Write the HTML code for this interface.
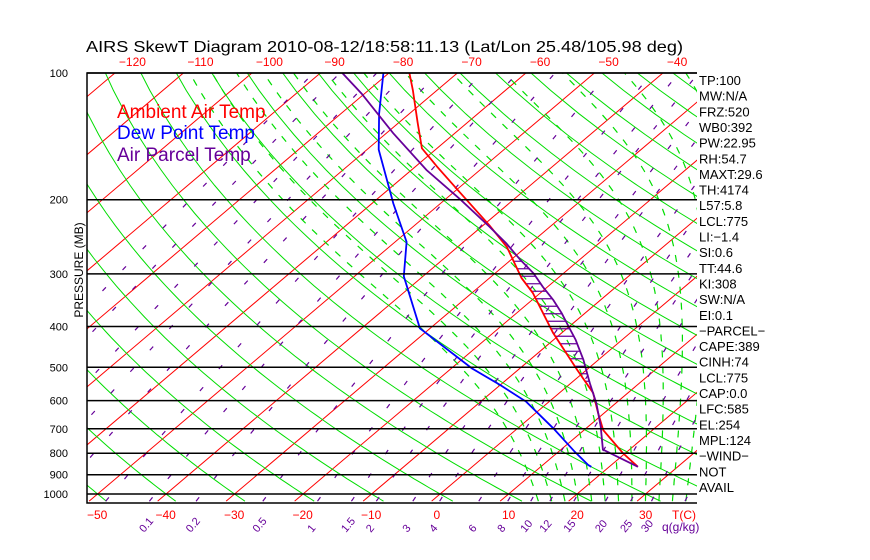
<!DOCTYPE html>
<html><head><meta charset="utf-8"><style>
html,body{margin:0;padding:0;background:#fff}
svg{display:block}
text{font-family:"Liberation Sans",sans-serif}
</style></head><body>
<svg id="chart" width="870" height="560" viewBox="0 0 870 560" xmlns="http://www.w3.org/2000/svg">
<defs><clipPath id="plotclip"><rect x="87" y="73" width="610" height="430"/></clipPath></defs>
<text x="86" y="52" font-size="16" textLength="597" lengthAdjust="spacingAndGlyphs" fill="#000">AIRS SkewT Diagram 2010-08-12/18:58:11.13 (Lat/Lon 25.48/105.98 deg)</text>
<g id="grid" clip-path="url(#plotclip)"></g>
<g id="series" clip-path="url(#plotclip)"></g>
<g id="axes"></g>
<text x="117" y="118" font-size="19" fill="#ff0000">Ambient Air Temp</text>
<text x="117" y="139" font-size="19" fill="#0000ff">Dew Point Temp</text>
<text x="117" y="161" font-size="19" fill="#660099">Air Parcel Temp</text>
<text transform="translate(83,270) rotate(-90)" text-anchor="middle" font-size="12" fill="#000">PRESSURE (MB)</text>
<g id="stats"></g>
</svg>
<script>
// ---- data ----
const isobarLevels = [100,200,300,400,500,600,700,800,900,1000];
const bottomTempTicks = [-50,-40,-30,-20,-10,0,10,20,30];
const topTempTicks = [-120,-110,-100,-90,-80,-70,-60,-50,-40];
const mixRatioLabels = [0.1,0.2,0.5,1,1.5,2,3,4,6,8,10,12,15,20,25,30];
const mixRatioLines = [0.001,0.002,0.005,0.01,0.02,0.05,0.1,0.2,0.5,1,1.5,2,3,4,6,8,10,12,15,20,25,30,40];
const moistAdiabats = [14,16,18,20,22,24,26,28,30,32,34,36,38,40];
const envPres = [100,110,131,151,167,192,230,259,307,333,414,507,575,642,705,799,862];
const envTemp = [-77,-73.5,-67.3,-62.2,-56.8,-49.1,-39.1,-32.8,-25.3,-21.1,-11.3,-1.4,4.9,9.1,12.8,19.6,24.2];
const dewPres = [100,125,152,204,252,304,404,503,551,604,698,794,853,862];
const dewTemp = [-80.8,-74.4,-68.3,-56.9,-48.3,-42.8,-31.5,-17,-10,-3.3,5.2,12.4,16.6,17.4];
const parPres = [100,112,139,170,200,232,254,278,299,322,346,372,400,430,480,546,609,691,784,862];
const parTemp = [-86.8,-80.4,-69,-57.8,-47.7,-38.8,-33.5,-28.6,-24.4,-20.7,-16.9,-13.4,-10.1,-6.8,-2.2,2.8,7.2,11.8,16.1,24.2];
const statLabels = ["TP:100","MW:N/A","FRZ:520","WB0:392","PW:22.95","RH:54.7","MAXT:29.6","TH:4174","L57:5.8","LCL:775","LI:-1.4","SI:0.6","TT:44.6","KI:308","SW:N/A","EI:0.1","-PARCEL-","CAPE:389","CINH:74","LCL:775","CAP:0.0","LFC:585","EL:254","MPL:124","-WIND-","NOT","AVAIL"];

// ---- axis functions ----
const X0=87, YB=503, SC=6.85, SK=1.18;
function yP(p){return 73+421*Math.log10(p/100);}
function xT(T,p){return X0+SC*(T+50)+SK*(YB-yP(p));}
const NS='http://www.w3.org/2000/svg';
function mk(tag,attrs,parent){const e=document.createElementNS(NS,tag);for(const k in attrs)e.setAttribute(k,attrs[k]);parent.appendChild(e);return e;}
const grid=document.getElementById('grid'), series=document.getElementById('series'), axes=document.getElementById('axes'), stats=document.getElementById('stats');
function pts(arr){return arr.map(a=>a[0].toFixed(1)+','+a[1].toFixed(1)).join(' ');}

// isotherms
for(let T=-170;T<=50;T+=10){
  const l=mk('line',{x1:xT(T,1040),y1:yP(1040),x2:xT(T,95),y2:yP(95),stroke:'#ff0000','stroke-width':1},grid);
  
  
}
// dry adiabats
for(let th=173.15;th<=503.15;th+=10){
  const a=[];for(let p=1040;p>=95;p-=15){a.push([xT(th*Math.pow(p/1000,0.286)-273.15,p),yP(p)]);}
  const l=mk('polyline',{points:pts(a),fill:'none',stroke:'#00dd00','stroke-width':1},grid);
  
  
}
// moist adiabats
function es(T){return 6.112*Math.exp(17.67*T/(T+243.5));}
for(const tw of moistAdiabats){
  let T=tw+273.15;const a=[[xT(tw,1000),yP(1000)]];
  for(let p=1000;p>100;p-=5){const rs=0.622*es(T-273.15)/(p-es(T-273.15));
    const d=(287*T+2.5e6*rs)/(p*(1004+2.5e6*2.5e6*rs*0.622/(287*T*T)));T-=d*5;a.push([xT(T-273.15,p-5),yP(p-5)]);}
  let T2=tw+273.15;const b=[];
  for(let p=1000;p<1040;p+=5){const rs=0.622*es(T2-273.15)/(p-es(T2-273.15));
    const d=(287*T2+2.5e6*rs)/(p*(1004+2.5e6*2.5e6*rs*0.622/(287*T2*T2)));T2+=d*5;b.push([xT(T2-273.15,p+5),yP(p+5)]);}
  const all=b.reverse().concat(a);
  const l=mk('polyline',{points:pts(all),fill:'none',stroke:'#00dd00','stroke-width':1.2,'stroke-dasharray':'7,9'},grid);
  
  
}
// mixing ratio lines
function tw_of(w,p){const e=w*p/(622+w);const L=Math.log(e/6.112);return 243.5*L/(17.67-L);}
for(const w of mixRatioLines){
  const a=[];for(let p=1040;p>=95;p-=10)a.push([xT(tw_of(w,p),p),yP(p)]);
  const l=mk('polyline',{points:pts(a),fill:'none',stroke:'#660099','stroke-width':1.2,'stroke-dasharray':'5,24'},grid);
  
  
}
// isobars
for(const p of isobarLevels){
  const l=mk('line',{x1:87,y1:yP(p),x2:697,y2:yP(p),stroke:'#000','stroke-width':1.5},axes);
  
  
  const t=mk('text',{x:68,y:yP(p)+4,'font-size':11,'text-anchor':'end',fill:'#000'},axes);t.textContent=p;
  
  
}
const fr=mk('polyline',{points:'697,73 87,73 87,503 697,503',fill:'none',stroke:'#000','stroke-width':1.5},axes);


for(const T of bottomTempTicks){
  const t=mk('text',{x:X0+SC*(T+50)+(T<0?0:4),y:519,'font-size':12,fill:'#ff0000'},axes);t.textContent=(T<0?'\u2212'+(-T):T);
  
  
}
const tc=mk('text',{x:672,y:519,'font-size':12,fill:'#ff0000'},axes);tc.textContent='T(C)';


for(const T of topTempTicks){
  const t=mk('text',{x:X0+SC*(T+50)+SK*430+4,y:66,'font-size':12,fill:'#ff0000'},axes);t.textContent='\u2212'+(-T);
  
  
}
for(const w of mixRatioLabels){
  const x=xT(tw_of(w,1035),1035);
  const t=mk('text',{transform:'translate('+(x-6).toFixed(1)+',533) rotate(-50)','font-size':11,fill:'#660099'},axes);t.textContent=w;
  
  
}
const ql=mk('text',{x:662,y:531,'font-size':12,fill:'#660099'},axes);ql.textContent='q(g/kg)';



// series
function toPix(P,T){return P.map((p,i)=>[xT(T[i],p),yP(p)]);}
const envPx=toPix(envPres,envTemp), dewPx=toPix(dewPres,dewTemp), parPx=toPix(parPres,parTemp);
function interpX(px,y){for(let i=0;i<px.length-1;i++){const a=px[i],b=px[i+1];if((y>=a[1]&&y<=b[1])){const f=(y-a[1])/(b[1]-a[1]||1);return a[0]+f*(b[0]-a[0]);}}return null;}
for(let y=yP(280);y<=yP(585);y+=7.5){
  const xe=interpX(envPx,y), xp=interpX(parPx,y);
  if(xe!=null&&xp!=null&&xp>xe+1){
    const h=mk('line',{x1:xe,y1:y,x2:xp,y2:y,stroke:'#660099','stroke-width':1.2},series);
    
    
  }
}
const pe=mk('polyline',{points:pts(envPx),fill:'none',stroke:'#ff0000','stroke-width':1.8},series);


const pd=mk('polyline',{points:pts(dewPx),fill:'none',stroke:'#0000ff','stroke-width':1.8},series);


const pp=mk('polyline',{points:pts(parPx),fill:'none',stroke:'#660099','stroke-width':1.8},series);



// stats
statLabels.forEach((s,i)=>{
  const t=mk('text',{x:699,y:85+i*15.65,'font-size':13,fill:'#000'},stats);t.textContent=s.replace(/-/g,'\u2212');
  
  
});
</script>
</body></html>
